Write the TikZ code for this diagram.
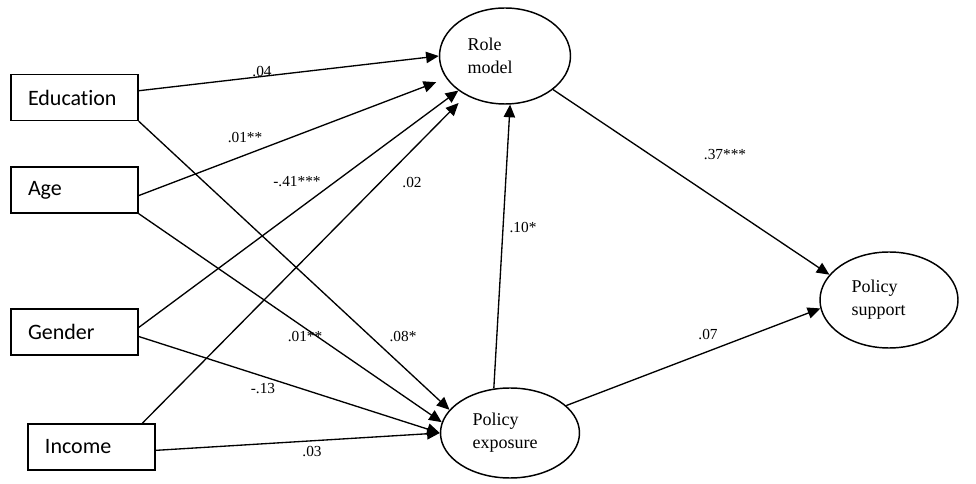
\documentclass[tikz,border=0pt]{standalone}
\usepackage{fontspec}
\setmainfont{Liberation Serif}
\newfontfamily\boxfont[Ligatures=NoCommon]{Carlito}
\usetikzlibrary{shapes.geometric,arrows.meta}

\begin{document}
\begin{tikzpicture}[x=0.75pt,y=-0.75pt,
	var/.style={draw, line width=1pt, rectangle, minimum height=34.5pt, inner xsep=12.75pt, text width=69.75pt, align=left, font=\boxfont\fontsize{16.5}{20}\selectfont},
	latent/.style={draw, line width=1.1pt, ellipse, inner sep=0pt, text width=56pt, align=left, font=\fontsize{13.5}{17.25}\selectfont},
	arr/.style={line width=1pt, -{Triangle[length=9.5pt,width=8.5pt]}},
	coef/.style={inner sep=0pt, font=\fontsize{11.5}{13}\selectfont}]

\useasboundingbox (0,0) rectangle (976,484);

% observed variables
\node[var] (edu) at (74.5,97.5) {Education};
\node[var] (age) at (74.5,190) {Age};
\node[var] (gender) at (74.5,332) {Gender};
\node[var] (income) at (91.5,447) {Income};

% mediators and outcome
\node[latent, minimum width=98.25pt, minimum height=72pt] (role) at (505,56) {Role\\model};
\node[latent, minimum width=104.25pt, minimum height=67.5pt] (pexp) at (510,433) {Policy\\exposure};
\node[latent, minimum width=103.5pt, minimum height=72pt] (support) at (889,300) {Policy\\support};

% paths to role model
\draw[arr] (edu.6) -- (role.west);
\draw[arr, shorten >=8pt] (age.-5) -- (role);
\draw[arr] (gender.4) -- (role);
\draw[arr, shorten >=8pt] (income.25) -- (role);

% paths to policy exposure
\draw[arr] (edu.south east) -- (pexp.159);
\draw[arr] (age.south east) -- (pexp.171);
\draw[arr] (gender.-4) -- (pexp.180);
\draw[arr] (income.-3) -- (pexp.180);

% mediators to outcome
\draw[arr] (pexp.110) -- (role.-84);
\draw[arr] (role.-35) -- (support.157);
\draw[arr] (pexp.26) -- (support.187);

% coefficients
\foreach \t/\x/\y/\n in {.04/262/72/a, .01**/245/138/b, -.41***/297/182/c, .02/412/183/d,
	.10*/523/228/e, .37***/725/155/f, .07/708/335/g, .01**/305/337/h,
	.08*/403/337/i, -.13/263/389/j, .03/312/452/k}
	\node[coef] (c\n) at (\x,\y) {\t};

\end{tikzpicture}
\end{document}
